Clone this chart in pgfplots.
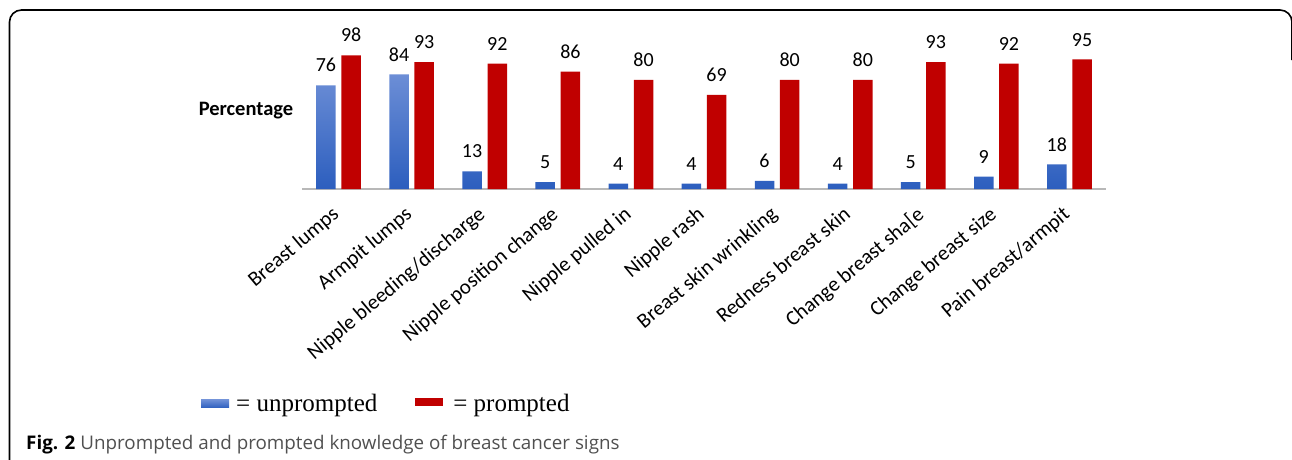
\documentclass[border=0pt]{standalone}
\usepackage{fontspec}
\usepackage{pgfplots}
\pgfplotsset{compat=1.18}
\setmainfont{Carlito}
\newfontfamily\timesfont{Liberation Serif}
\newfontfamily\capfont{Open Sans}
\definecolor{blueTop}{RGB}{108,142,214}
\definecolor{blueBot}{RGB}{44,94,190}
\definecolor{blueLeg}{RGB}{68,114,196}
\definecolor{redBar}{RGB}{192,0,0}
\definecolor{capgray}{RGB}{80,80,80}
\begin{document}
\begin{tikzpicture}
\useasboundingbox (0,0) rectangle (1292pt,-459pt);
\begin{scope}
\clip (0,0) rectangle (1292pt,-459pt);
\draw[line width=1.6pt] (9.5pt,-470pt) -- (9.5pt,-22pt) arc[start angle=180,end angle=90,radius=12pt] -- (1280pt,-10pt) arc[start angle=90,end angle=0,radius=12pt] -- (1292pt,-60pt);
\end{scope}
\node[anchor=base, font=\bfseries\fontsize{20.5}{24}\selectfont, inner sep=0pt] at (246pt,-115pt) {Percentage};
\begin{axis}[
  at={(302pt,-189pt)}, anchor=south west,
  scale only axis, width=804pt, height=136.4pt,
  xmin=-0.5, xmax=10.5, ymin=0, ymax=100,
  ybar=5.7pt, bar width=19.5pt,
  axis x line*=bottom, axis y line=none,
  x axis line style={draw=black!28, line width=1.3pt, -},
  xtick={0,...,10},
  xticklabels={Breast lumps, Armpit lumps, Nipple bleeding/discharge, Nipple position change, Nipple pulled in, Nipple rash, Breast skin wrinkling, Redness breast skin, Change breast sha[e, Change breast size, Pain breast/armpit},
  xtick style={draw=none}, major tick length=0pt,
  ytick=\empty,
  xticklabel style={font=\fontsize{21}{25}\selectfont, xshift=-8pt, yshift=-16pt, rotate=40, anchor=north east, inner sep=0pt},
  nodes near coords,
  /pgf/number format/assume math mode=true,
  every node near coord/.append style={font=\fontsize{20}{24}\selectfont, inner sep=0pt, anchor=south, yshift=13pt},
  clip=false,
  legend columns=2,
  legend style={at={(-0.1256,-1.576)}, anchor=west, draw=none, fill=none, inner sep=0pt,
    font=\timesfont\fontsize{25}{28}\selectfont,
    /tikz/every even column/.append style={column sep=36pt}},
]
\addplot[draw=none, top color=blueTop, bottom color=blueBot,
  legend image code/.code={\fill[blueLeg] (0pt,-4pt) rectangle (28pt,4pt); \path (33pt,0pt);}]
  coordinates {(0,76) (1,84) (2,13) (3,5) (4,4) (5,4) (6,6) (7,4) (8,5) (9,9) (10,18)};
\addplot[draw=none, fill=redBar,
  legend image code/.code={\fill[redBar] (0pt,-2pt) rectangle (28pt,6pt); \path (36pt,0pt);}]
  coordinates {(0,98) (1,93) (2,92) (3,86) (4,80) (5,69) (6,80) (7,80) (8,93) (9,92) (10,95)};
\legend{= unprompted, = prompted}
\end{axis}
\node[anchor=base west, inner sep=0pt, font=\capfont\fontsize{18.8}{22}\selectfont] at (26pt,-449pt) {\textbf{Fig. 2} \textcolor{capgray}{Unprompted and prompted knowledge of breast cancer signs}};
\end{tikzpicture}
\end{document}
